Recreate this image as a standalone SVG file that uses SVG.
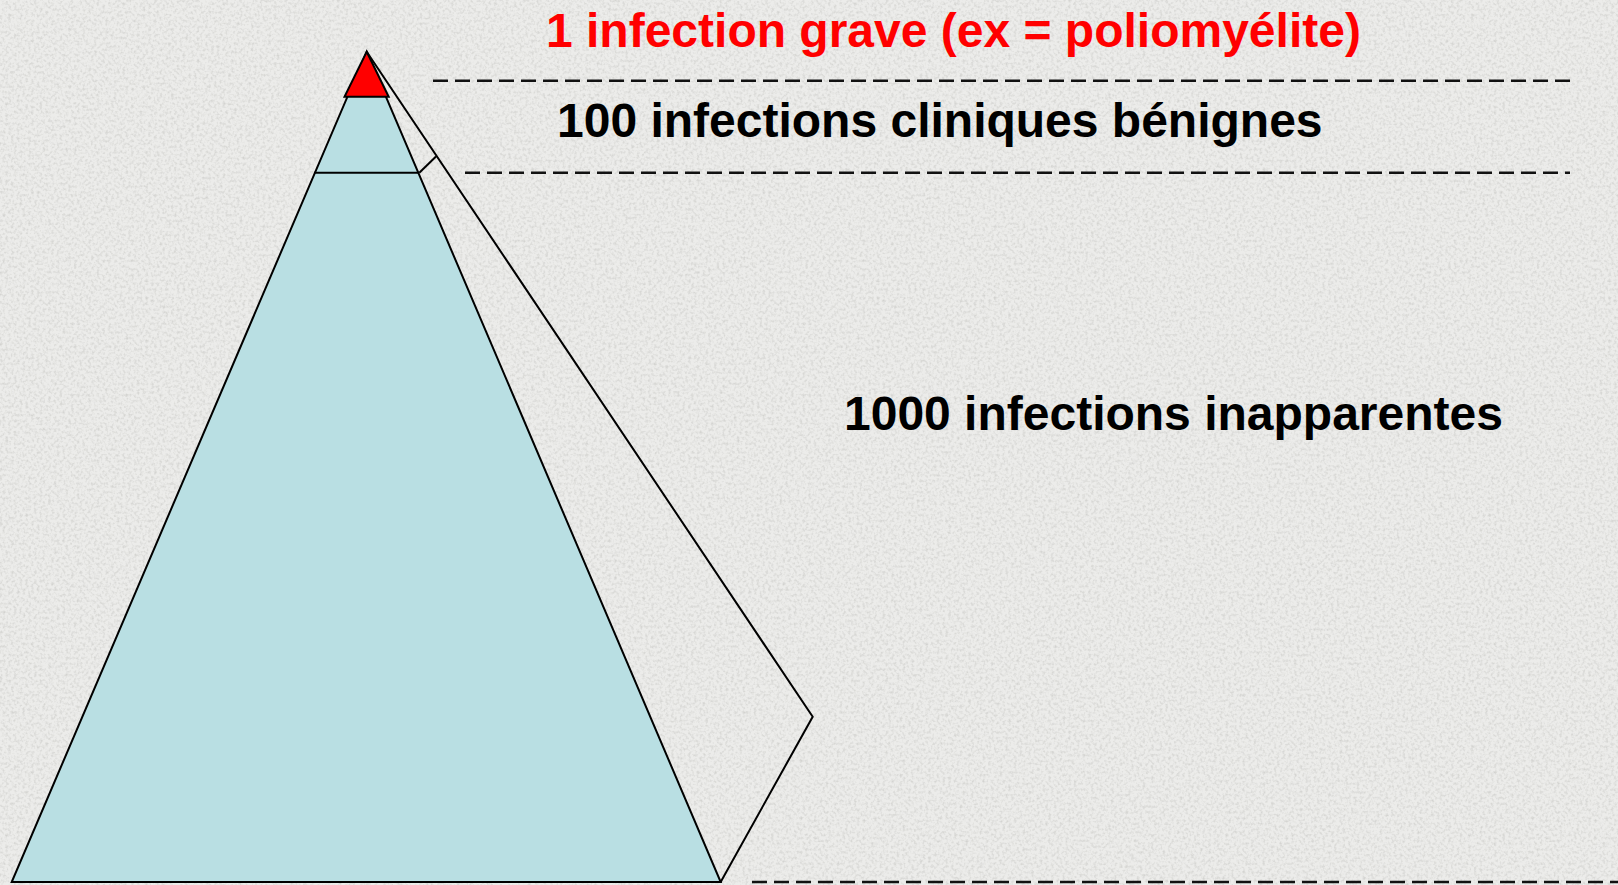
<svg xmlns="http://www.w3.org/2000/svg" width="1618" height="885" viewBox="0 0 1618 885">
  <defs>
    <filter id="marble" x="0" y="0" width="100%" height="100%">
      <feTurbulence type="fractalNoise" baseFrequency="0.35" numOctaves="2" seed="3" result="n"/>
      <feColorMatrix in="n" type="matrix" values="0 0 0 0 0.55  0 0 0 0 0.55  0 0 0 0 0.53  0 0 0 -2.2 1.25" result="spots"/>
      <feComposite in="spots" in2="SourceGraphic" operator="in"/>
    </filter>
  </defs>
  <style>
    .edge { fill: none; stroke: #000; stroke-width: 2; stroke-linejoin: miter; }
    .dash { fill: none; stroke: #111; stroke-width: 2.5; stroke-dasharray: 15 7; }
    .lbl { font-family: "Liberation Sans", Arial, sans-serif; font-weight: bold; font-size: 48px; }
  </style>
  <rect x="0" y="0" width="1618" height="885" fill="#ececea"/>
  <rect x="0" y="0" width="1618" height="885" fill="#ececea" filter="url(#marble)" opacity="0.6"/>

  <g id="outline">
    <polyline class="edge" points="366.7,51.7 812.7,716.7 720.7,882"/>
    <line class="edge" x1="419.3" y1="172.7" x2="436" y2="156.5"/>
  </g>

  <g id="pyramid">
    <polygon points="366.7,51.7 720.7,882 11.7,882" fill="#b9dfe3" stroke="#000" stroke-width="2"/>
    <line class="edge" x1="314" y1="172.7" x2="418.3" y2="172.7"/>
  </g>

  <g id="apex">
    <polygon points="366.7,51.7 388.7,96.7 344.5,96.7" fill="#ff0000" stroke="#000" stroke-width="2"/>
  </g>

  <g id="connectors">
    <line class="dash" x1="433" y1="80.7" x2="1570" y2="80.7"/>
    <line class="dash" x1="465" y1="172.7" x2="1570" y2="172.7"/>
    <line class="dash" x1="752" y1="882" x2="1618" y2="882"/>
  </g>

  <g id="label-grave">
    <text class="lbl" x="546" y="47" fill="#ff0000">1 infection grave (ex = poliomyélite)</text>
  </g>
  <g id="label-benignes">
    <text class="lbl" x="557" y="137" fill="#000">100 infections cliniques bénignes</text>
  </g>
  <g id="label-inapparentes">
    <text class="lbl" x="844" y="430" fill="#000">1000 infections inapparentes</text>
  </g>
</svg>
